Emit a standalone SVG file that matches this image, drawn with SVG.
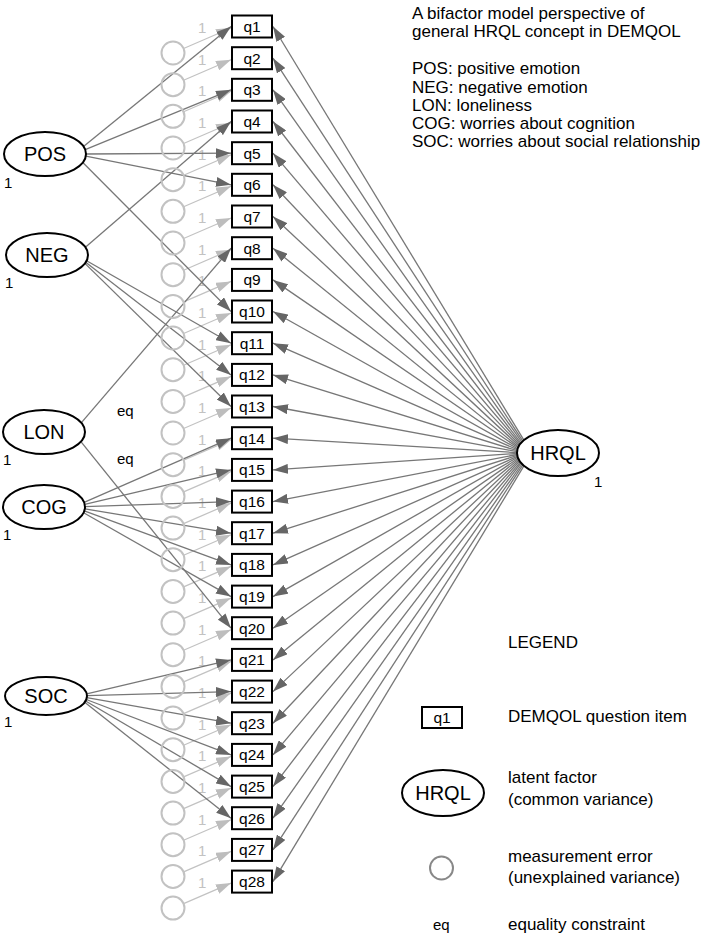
<svg xmlns="http://www.w3.org/2000/svg" width="714" height="939" viewBox="0 0 714 939">
<style>
text{font-family:"Liberation Sans",Arial,sans-serif;}
.box{fill:#fff;stroke:#000;stroke-width:2;}
.bt{font-size:15.5px;text-anchor:middle;fill:#000;}
.lat{fill:#fff;stroke:#000;stroke-width:2;}
.lt{font-size:20px;text-anchor:middle;fill:#000;}
.err{fill:none;stroke:#c2c2c2;stroke-width:2;}
.el{stroke:#c2c2c2;stroke-width:1.2;fill:none;marker-end:url(#al);}
.one{font-size:15px;fill:#c2c2c2;}
.fl{stroke:#777;stroke-width:1.3;fill:none;marker-end:url(#ad);}
.k{font-size:15px;fill:#000;}
.info{font-size:17px;fill:#000;}
</style>
<defs>
<marker id="ad" markerUnits="userSpaceOnUse" markerWidth="16" markerHeight="10" refX="15" refY="5" orient="auto"><path d="M0,0 L15,5 L0,10 z" fill="#666"/></marker>
<marker id="al" markerUnits="userSpaceOnUse" markerWidth="16" markerHeight="10" refX="15" refY="5" orient="auto"><path d="M0,0 L15,5 L0,10 z" fill="#bdbdbd"/></marker>
</defs>
<rect width="714" height="939" fill="#fff"/>

<g id="connectors">
<g id="error-paths">
<line class="el" x1="183.6" y1="48.5" x2="231" y2="28"/>
<line class="el" x1="183.6" y1="80.2" x2="231" y2="59.7"/>
<line class="el" x1="183.6" y1="111.8" x2="231" y2="91.3"/>
<line class="el" x1="183.6" y1="143.5" x2="231" y2="123"/>
<line class="el" x1="183.6" y1="175.2" x2="231" y2="154.7"/>
<line class="el" x1="183.6" y1="206.8" x2="231" y2="186.3"/>
<line class="el" x1="183.6" y1="238.5" x2="231" y2="218"/>
<line class="el" x1="183.6" y1="270.2" x2="231" y2="249.7"/>
<line class="el" x1="183.6" y1="301.9" x2="231" y2="281.4"/>
<line class="el" x1="183.6" y1="333.5" x2="231" y2="313"/>
<line class="el" x1="183.6" y1="365.2" x2="231" y2="344.7"/>
<line class="el" x1="183.6" y1="396.9" x2="231" y2="376.4"/>
<line class="el" x1="183.6" y1="428.5" x2="231" y2="408"/>
<line class="el" x1="183.6" y1="460.2" x2="231" y2="439.7"/>
<line class="el" x1="183.6" y1="491.9" x2="231" y2="471.4"/>
<line class="el" x1="183.6" y1="523.6" x2="231" y2="503.1"/>
<line class="el" x1="183.6" y1="555.2" x2="231" y2="534.7"/>
<line class="el" x1="183.6" y1="586.9" x2="231" y2="566.4"/>
<line class="el" x1="183.6" y1="618.6" x2="231" y2="598.1"/>
<line class="el" x1="183.6" y1="650.2" x2="231" y2="629.7"/>
<line class="el" x1="183.6" y1="681.9" x2="231" y2="661.4"/>
<line class="el" x1="183.6" y1="713.6" x2="231" y2="693.1"/>
<line class="el" x1="183.6" y1="745.2" x2="231" y2="724.7"/>
<line class="el" x1="183.6" y1="776.9" x2="231" y2="756.4"/>
<line class="el" x1="183.6" y1="808.6" x2="231" y2="788.1"/>
<line class="el" x1="183.6" y1="840.2" x2="231" y2="819.7"/>
<line class="el" x1="183.6" y1="871.9" x2="231" y2="851.4"/>
<line class="el" x1="183.6" y1="903.6" x2="231" y2="883.1"/>
</g>
<g id="error-weights">
<text class="one" x="198" y="33">1</text>
<text class="one" x="198" y="64.7">1</text>
<text class="one" x="198" y="96.3">1</text>
<text class="one" x="198" y="128">1</text>
<text class="one" x="198" y="159.7">1</text>
<text class="one" x="198" y="191.3">1</text>
<text class="one" x="198" y="223">1</text>
<text class="one" x="198" y="254.7">1</text>
<text class="one" x="198" y="286.4">1</text>
<text class="one" x="198" y="318">1</text>
<text class="one" x="198" y="349.7">1</text>
<text class="one" x="198" y="381.4">1</text>
<text class="one" x="198" y="413">1</text>
<text class="one" x="198" y="444.7">1</text>
<text class="one" x="198" y="476.4">1</text>
<text class="one" x="198" y="508.1">1</text>
<text class="one" x="198" y="539.7">1</text>
<text class="one" x="198" y="571.4">1</text>
<text class="one" x="198" y="603.1">1</text>
<text class="one" x="198" y="634.7">1</text>
<text class="one" x="198" y="666.4">1</text>
<text class="one" x="198" y="698.1">1</text>
<text class="one" x="198" y="729.7">1</text>
<text class="one" x="198" y="761.4">1</text>
<text class="one" x="198" y="793.1">1</text>
<text class="one" x="198" y="824.7">1</text>
<text class="one" x="198" y="856.4">1</text>
<text class="one" x="198" y="888.1">1</text>
</g>
<g id="specific-loadings">
<line class="fl" x1="83.5" y1="146.5" x2="231" y2="26.5"/>
<line class="fl" x1="85.2" y1="149.7" x2="231" y2="89.8"/>
<line class="fl" x1="86" y1="154" x2="231" y2="153.2"/>
<line class="fl" x1="85.8" y1="156.2" x2="231" y2="184.8"/>
<line class="fl" x1="82.8" y1="162.5" x2="231" y2="311.5"/>
<line class="fl" x1="85.4" y1="247.3" x2="231" y2="121.5"/>
<line class="fl" x1="86.6" y1="260.7" x2="231" y2="343.2"/>
<line class="fl" x1="85.7" y1="262.2" x2="231" y2="374.9"/>
<line class="fl" x1="84.9" y1="263.4" x2="231" y2="406.5"/>
<line class="fl" x1="81.2" y1="422.8" x2="231" y2="248.2"/>
<line class="fl" x1="80.9" y1="441.6" x2="231" y2="628.2"/>
<line class="fl" x1="84.1" y1="502.4" x2="231" y2="438.2"/>
<line class="fl" x1="84.7" y1="504.4" x2="231" y2="469.9"/>
<line class="fl" x1="85" y1="506.6" x2="231" y2="501.6"/>
<line class="fl" x1="84.9" y1="508.8" x2="231" y2="533.2"/>
<line class="fl" x1="84.3" y1="510.9" x2="231" y2="564.9"/>
<line class="fl" x1="83.6" y1="512.7" x2="231" y2="596.6"/>
<line class="fl" x1="86.7" y1="693.8" x2="231" y2="659.9"/>
<line class="fl" x1="87" y1="695.7" x2="231" y2="691.6"/>
<line class="fl" x1="86.8" y1="697.7" x2="231" y2="723.2"/>
<line class="fl" x1="86.3" y1="699.5" x2="231" y2="754.9"/>
<line class="fl" x1="85.6" y1="701" x2="231" y2="786.6"/>
<line class="fl" x1="84.7" y1="702.3" x2="231" y2="818.2"/>
<text class="k" x="117" y="416">eq</text>
<text class="k" x="117" y="464">eq</text>
</g>
<g id="general-loadings">
<line class="fl" x1="523.9" y1="440.2" x2="273" y2="26.5"/>
<line class="fl" x1="522.8" y1="441.2" x2="273" y2="58.2"/>
<line class="fl" x1="521.9" y1="442.1" x2="273" y2="89.8"/>
<line class="fl" x1="521" y1="443.1" x2="273" y2="121.5"/>
<line class="fl" x1="520.3" y1="444" x2="273" y2="153.2"/>
<line class="fl" x1="519.6" y1="445" x2="273" y2="184.8"/>
<line class="fl" x1="519" y1="445.9" x2="273" y2="216.5"/>
<line class="fl" x1="518.5" y1="446.9" x2="273" y2="248.2"/>
<line class="fl" x1="518.1" y1="447.8" x2="273" y2="279.9"/>
<line class="fl" x1="517.7" y1="448.8" x2="273" y2="311.5"/>
<line class="fl" x1="517.4" y1="449.7" x2="273" y2="343.2"/>
<line class="fl" x1="517.2" y1="450.7" x2="273" y2="374.9"/>
<line class="fl" x1="517.1" y1="451.6" x2="273" y2="406.5"/>
<line class="fl" x1="517" y1="452.6" x2="273" y2="438.2"/>
<line class="fl" x1="517" y1="453.5" x2="273" y2="469.9"/>
<line class="fl" x1="517.1" y1="454.5" x2="273" y2="501.6"/>
<line class="fl" x1="517.2" y1="455.4" x2="273" y2="533.2"/>
<line class="fl" x1="517.4" y1="456.4" x2="273" y2="564.9"/>
<line class="fl" x1="517.7" y1="457.3" x2="273" y2="596.6"/>
<line class="fl" x1="518.1" y1="458.3" x2="273" y2="628.2"/>
<line class="fl" x1="518.5" y1="459.2" x2="273" y2="659.9"/>
<line class="fl" x1="519" y1="460.2" x2="273" y2="691.6"/>
<line class="fl" x1="519.6" y1="461.1" x2="273" y2="723.2"/>
<line class="fl" x1="520.3" y1="462.1" x2="273" y2="754.9"/>
<line class="fl" x1="521" y1="463" x2="273" y2="786.6"/>
<line class="fl" x1="521.9" y1="464" x2="273" y2="818.2"/>
<line class="fl" x1="522.8" y1="464.9" x2="273" y2="849.9"/>
<line class="fl" x1="523.9" y1="465.9" x2="273" y2="881.6"/>
</g>
</g>

<g id="errors">
<circle class="err" cx="173" cy="53" r="11.5"/>
<circle class="err" cx="173" cy="84.7" r="11.5"/>
<circle class="err" cx="173" cy="116.3" r="11.5"/>
<circle class="err" cx="173" cy="148" r="11.5"/>
<circle class="err" cx="173" cy="179.7" r="11.5"/>
<circle class="err" cx="173" cy="211.3" r="11.5"/>
<circle class="err" cx="173" cy="243" r="11.5"/>
<circle class="err" cx="173" cy="274.7" r="11.5"/>
<circle class="err" cx="173" cy="306.4" r="11.5"/>
<circle class="err" cx="173" cy="338" r="11.5"/>
<circle class="err" cx="173" cy="369.7" r="11.5"/>
<circle class="err" cx="173" cy="401.4" r="11.5"/>
<circle class="err" cx="173" cy="433" r="11.5"/>
<circle class="err" cx="173" cy="464.7" r="11.5"/>
<circle class="err" cx="173" cy="496.4" r="11.5"/>
<circle class="err" cx="173" cy="528.1" r="11.5"/>
<circle class="err" cx="173" cy="559.7" r="11.5"/>
<circle class="err" cx="173" cy="591.4" r="11.5"/>
<circle class="err" cx="173" cy="623.1" r="11.5"/>
<circle class="err" cx="173" cy="654.7" r="11.5"/>
<circle class="err" cx="173" cy="686.4" r="11.5"/>
<circle class="err" cx="173" cy="718.1" r="11.5"/>
<circle class="err" cx="173" cy="749.7" r="11.5"/>
<circle class="err" cx="173" cy="781.4" r="11.5"/>
<circle class="err" cx="173" cy="813.1" r="11.5"/>
<circle class="err" cx="173" cy="844.7" r="11.5"/>
<circle class="err" cx="173" cy="876.4" r="11.5"/>
<circle class="err" cx="173" cy="908.1" r="11.5"/>
</g>

<g id="q1"><rect class="box" x="232" y="15.5" width="40" height="22"/><text class="bt" x="252" y="32">q1</text></g>
<g id="q2"><rect class="box" x="232" y="47.2" width="40" height="22"/><text class="bt" x="252" y="63.7">q2</text></g>
<g id="q3"><rect class="box" x="232" y="78.8" width="40" height="22"/><text class="bt" x="252" y="95.3">q3</text></g>
<g id="q4"><rect class="box" x="232" y="110.5" width="40" height="22"/><text class="bt" x="252" y="127">q4</text></g>
<g id="q5"><rect class="box" x="232" y="142.2" width="40" height="22"/><text class="bt" x="252" y="158.7">q5</text></g>
<g id="q6"><rect class="box" x="232" y="173.8" width="40" height="22"/><text class="bt" x="252" y="190.3">q6</text></g>
<g id="q7"><rect class="box" x="232" y="205.5" width="40" height="22"/><text class="bt" x="252" y="222">q7</text></g>
<g id="q8"><rect class="box" x="232" y="237.2" width="40" height="22"/><text class="bt" x="252" y="253.7">q8</text></g>
<g id="q9"><rect class="box" x="232" y="268.9" width="40" height="22"/><text class="bt" x="252" y="285.4">q9</text></g>
<g id="q10"><rect class="box" x="232" y="300.5" width="40" height="22"/><text class="bt" x="252" y="317">q10</text></g>
<g id="q11"><rect class="box" x="232" y="332.2" width="40" height="22"/><text class="bt" x="252" y="348.7">q11</text></g>
<g id="q12"><rect class="box" x="232" y="363.9" width="40" height="22"/><text class="bt" x="252" y="380.4">q12</text></g>
<g id="q13"><rect class="box" x="232" y="395.5" width="40" height="22"/><text class="bt" x="252" y="412">q13</text></g>
<g id="q14"><rect class="box" x="232" y="427.2" width="40" height="22"/><text class="bt" x="252" y="443.7">q14</text></g>
<g id="q15"><rect class="box" x="232" y="458.9" width="40" height="22"/><text class="bt" x="252" y="475.4">q15</text></g>
<g id="q16"><rect class="box" x="232" y="490.6" width="40" height="22"/><text class="bt" x="252" y="507.1">q16</text></g>
<g id="q17"><rect class="box" x="232" y="522.2" width="40" height="22"/><text class="bt" x="252" y="538.7">q17</text></g>
<g id="q18"><rect class="box" x="232" y="553.9" width="40" height="22"/><text class="bt" x="252" y="570.4">q18</text></g>
<g id="q19"><rect class="box" x="232" y="585.6" width="40" height="22"/><text class="bt" x="252" y="602.1">q19</text></g>
<g id="q20"><rect class="box" x="232" y="617.2" width="40" height="22"/><text class="bt" x="252" y="633.7">q20</text></g>
<g id="q21"><rect class="box" x="232" y="648.9" width="40" height="22"/><text class="bt" x="252" y="665.4">q21</text></g>
<g id="q22"><rect class="box" x="232" y="680.6" width="40" height="22"/><text class="bt" x="252" y="697.1">q22</text></g>
<g id="q23"><rect class="box" x="232" y="712.2" width="40" height="22"/><text class="bt" x="252" y="728.7">q23</text></g>
<g id="q24"><rect class="box" x="232" y="743.9" width="40" height="22"/><text class="bt" x="252" y="760.4">q24</text></g>
<g id="q25"><rect class="box" x="232" y="775.6" width="40" height="22"/><text class="bt" x="252" y="792.1">q25</text></g>
<g id="q26"><rect class="box" x="232" y="807.2" width="40" height="22"/><text class="bt" x="252" y="823.7">q26</text></g>
<g id="q27"><rect class="box" x="232" y="838.9" width="40" height="22"/><text class="bt" x="252" y="855.4">q27</text></g>
<g id="q28"><rect class="box" x="232" y="870.6" width="40" height="22"/><text class="bt" x="252" y="887.1">q28</text></g>

<g id="POS"><ellipse class="lat" cx="45" cy="154" rx="41" ry="22"/><text class="lt" x="45" y="161">POS</text><text class="k" x="4" y="188">1</text></g>
<g id="NEG"><ellipse class="lat" cx="47" cy="255" rx="41" ry="22"/><text class="lt" x="47" y="262">NEG</text><text class="k" x="5" y="288">1</text></g>
<g id="LON"><ellipse class="lat" cx="44" cy="432" rx="41" ry="22"/><text class="lt" x="44" y="439">LON</text><text class="k" x="3" y="465">1</text></g>
<g id="COG"><ellipse class="lat" cx="44" cy="507" rx="41" ry="22"/><text class="lt" x="44" y="514">COG</text><text class="k" x="3" y="540">1</text></g>
<g id="SOC"><ellipse class="lat" cx="46" cy="696" rx="41" ry="19"/><text class="lt" x="46" y="703">SOC</text><text class="k" x="4" y="727">1</text></g>
<g id="HRQL"><ellipse class="lat" cx="558" cy="453" rx="41" ry="23"/><text class="lt" x="558" y="460">HRQL</text><text class="k" x="594" y="487">1</text></g>

<g id="title">
<text class="info" x="412" y="19">A bifactor model perspective of</text>
<text class="info" x="412" y="37">general HRQL concept in DEMQOL</text>
<text class="info" x="412" y="74">POS: positive emotion</text>
<text class="info" x="412" y="92.5">NEG: negative emotion</text>
<text class="info" x="412" y="111">LON: loneliness</text>
<text class="info" x="412" y="129">COG: worries about cognition</text>
<text class="info" x="412" y="147">SOC: worries about social relationship</text>
</g>

<g id="legend">
<text class="info" x="508" y="648">LEGEND</text>
<rect class="box" x="422" y="707" width="40" height="21"/><text class="bt" x="442" y="723">q1</text>
<text class="info" x="508" y="722">DEMQOL question item</text>
<ellipse class="lat" cx="443" cy="793" rx="41" ry="23"/><text class="lt" x="443" y="800">HRQL</text>
<text class="info" x="508" y="783">latent factor</text>
<text class="info" x="508" y="805">(common variance)</text>
<circle cx="441.5" cy="868" r="11.5" fill="none" stroke="#888" stroke-width="2"/>
<text class="info" x="508" y="862">measurement error</text>
<text class="info" x="508" y="883">(unexplained variance)</text>
<text class="k" x="433" y="930">eq</text>
<text class="info" x="508" y="930">equality constraint</text>
</g>
</svg>
